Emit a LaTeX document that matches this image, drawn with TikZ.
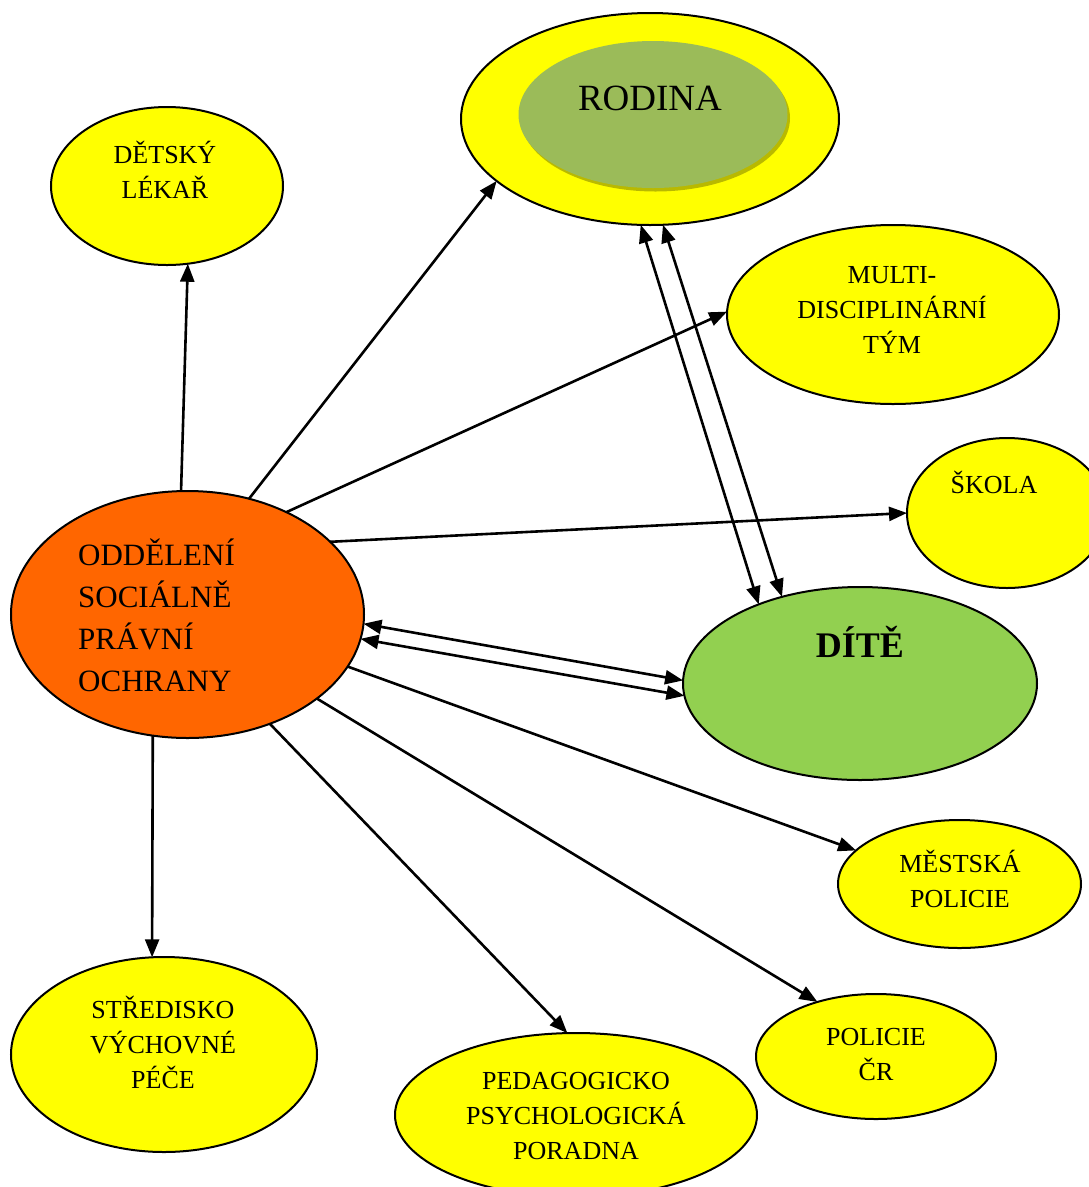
\documentclass[tikz,border=0pt]{standalone}
\usepackage{fontspec}
\setmainfont{Liberation Serif}
\usetikzlibrary{shapes.geometric,arrows.meta}
\definecolor{yel}{RGB}{255,255,0}
\definecolor{orng}{RGB}{255,102,0}
\definecolor{kidgreen}{RGB}{146,208,80}
\definecolor{famgreen}{RGB}{155,187,89}
\definecolor{famshadow}{RGB}{185,185,0}
\tikzset{
  ell/.style={ellipse, draw=black, line width=2pt, inner sep=0pt, outer sep=0pt},
  yell/.style={ell, fill=yel},
  lbl/.style={font=\fontsize{26}{35}\selectfont, align=center, anchor=base, inner sep=0pt},
  conn/.style={line width=2.6pt, -{Triangle[length=18pt,width=14pt]}},
  biconn/.style={line width=2.6pt, {Triangle[length=18pt,width=14pt]}-{Triangle[length=18pt,width=14pt]}},
}
\begin{document}
\begin{tikzpicture}[x=1pt,y=-1pt]
\useasboundingbox (0,0) rectangle (1089,1187);
\clip (0,0) rectangle (1089,1187);
\fill[white] (0,0) rectangle (1089,1187);

% ellipses
\node[yell, minimum width=232pt, minimum height=158pt] (lekar) at (167,186) {};
\node[yell, minimum width=378pt, minimum height=212pt] (rodina) at (650,119) {};
\node[ellipse, fill=famshadow, inner sep=0pt, minimum width=269pt, minimum height=147pt] (rodinashadow) at (655.5,118) {};
\node[ellipse, fill=famgreen, inner sep=0pt, minimum width=269pt, minimum height=147pt] (rodinainner) at (653,114.5) {};
\node[yell, minimum width=332pt, minimum height=179pt] (tym) at (893,314.5) {};
\node[yell, minimum width=200pt, minimum height=150pt] (skola) at (1007,513) {};
\node[ell, fill=orng, minimum width=353pt, minimum height=247pt] (ospod) at (187.5,614.5) {};
\node[ell, fill=kidgreen, minimum width=354pt, minimum height=193pt] (dite) at (860,683.5) {};
\node[yell, minimum width=243pt, minimum height=128pt] (mp) at (959.5,884) {};
\node[yell, minimum width=240pt, minimum height=125pt] (pcr) at (876,1056.5) {};
\node[yell, minimum width=306pt, minimum height=195pt] (svp) at (164,1054.5) {};
\node[yell, minimum width=362pt, minimum height=164pt] (ppp) at (576,1115) {};

% labels
\node[lbl] (tlekar) at (165,198) {DĚTSKÝ\\LÉKAŘ};
\node[lbl, font=\fontsize{37}{40}\selectfont] (trodina) at (650,110) {RODINA};
\node[lbl] (ttym) at (892,353) {MULTI-\\DISCIPLINÁRNÍ\\TÝM};
\node[lbl] (tskola) at (994,493) {ŠKOLA};
\node[lbl, font=\fontsize{31}{42}\selectfont, align=left, anchor=base west] (tospod) at (78,691) {ODDĚLENÍ\\SOCIÁLNĚ\\PRÁVNÍ\\OCHRANY};
\node[lbl, font=\fontsize{36}{40}\selectfont\bfseries] (tdite) at (860,657) {DÍTĚ};
\node[lbl] (tmp) at (960,907) {MĚSTSKÁ\\POLICIE};
\node[lbl] (tpcr) at (876,1080) {POLICIE\\ČR};
\node[lbl] (tsvp) at (163,1088) {STŘEDISKO\\VÝCHOVNÉ\\PÉČE};
\node[lbl] (tppp) at (576,1159) {PEDAGOGICKO\\PSYCHOLOGICKÁ\\PORADNA};

% connectors
\draw[conn] (ospod.93.9) -- (lekar.-75.3);
\draw[conn] (ospod.62.1) -- (rodina.-158);
\draw[conn] (ospod.46.7) -- (tym.179.5);
\draw[conn] (ospod.27.1) -- (skola.180);
\draw[biconn] (ospod.-3.4) -- (dite.179.5);
\draw[biconn] (ospod.-8.8) -- (dite.184.3);
\draw[biconn] (rodina.-95.3) -- (dite.142.9);
\draw[biconn] (rodina.-83.1) -- (dite.132);
\draw[conn] (ospod.-18.6) -- (mp.162.3);
\draw[conn] (ospod.-33.2) -- (pcr.137.7);
\draw[conn] (ospod.-53.9) -- (ppp.96.2);
\draw[conn] (ospod.-106) -- (svp.97.5);
\end{tikzpicture}
\end{document}
